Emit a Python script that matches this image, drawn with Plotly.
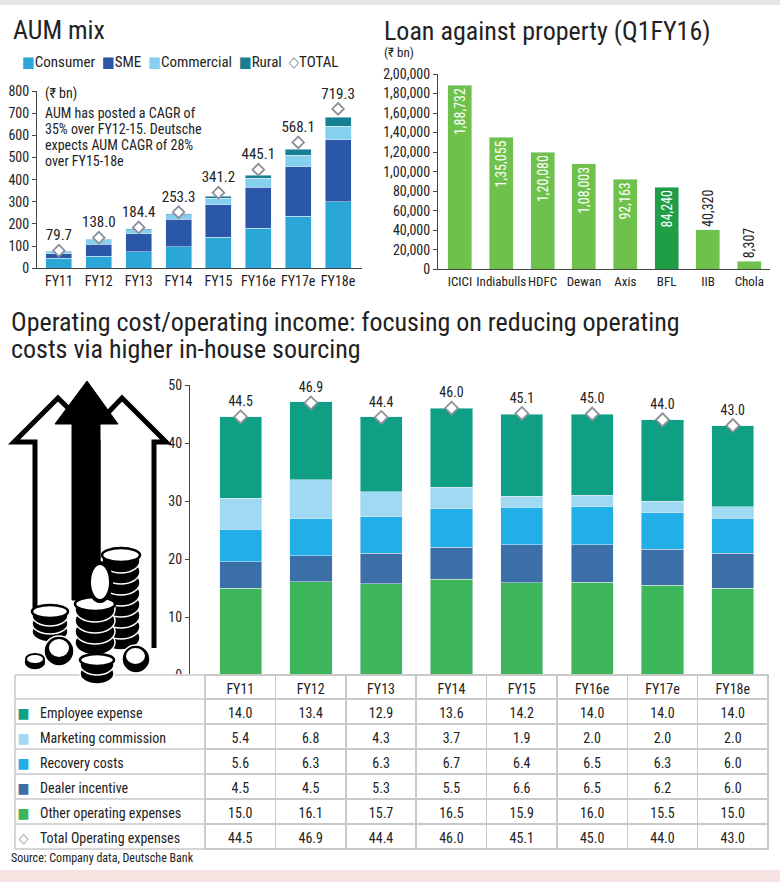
import plotly.graph_objects as go

W, H = 780, 882
FONT = "Liberation Sans Narrow, Roboto Condensed, DejaVu Sans Condensed, sans-serif"
INK = "#222222"
GRID = "#c9c9c9"

# ---- data ----
years = ["FY11", "FY12", "FY13", "FY14", "FY15", "FY16e", "FY17e", "FY18e"]

aum_names = ["Consumer", "SME", "Commercial", "Rural"]
aum_consumer = [45, 55, 75, 97, 140, 180, 236, 300]
aum_sme = [20, 53, 80, 124, 147, 185, 222, 279]
aum_commercial = [10, 20, 19, 20, 29, 42, 53, 63]
aum_rural = [2, 4, 5, 5, 9, 14, 26, 39]
aum_total = [79.7, 138.0, 184.4, 253.3, 341.2, 445.1, 568.1, 719.3]

lap_banks = ["ICICI", "Indiabulls", "HDFC", "Dewan", "Axis", "BFL", "IIB", "Chola"]
lap_values = [188732, 135055, 120080, 108003, 92163, 84240, 40320, 8307]
lap_labels = ["1,88,732", "1,35,055", "1,20,080", "1,08,003", "92,163", "84,240", "40,320", "8,307"]
lap_tickvals = [0, 20000, 40000, 60000, 80000, 100000, 120000, 140000, 160000, 180000, 200000]
lap_ticktext = ["0", "20,000", "40,000", "60,000", "80,000", "1,00,000", "1,20,000",
                "1,40,000", "1,60,000", "1,80,000", "2,00,000"]

opex_names = ["Employee expense", "Marketing commission", "Recovery costs",
              "Dealer incentive", "Other operating expenses"]
opex_total_name = "Total Operating expenses"
opex_employee = [14.0, 13.4, 12.9, 13.6, 14.2, 14.0, 14.0, 14.0]
opex_marketing = [5.4, 6.8, 4.3, 3.7, 1.9, 2.0, 2.0, 2.0]
opex_recovery = [5.6, 6.3, 6.3, 6.7, 6.4, 6.5, 6.3, 6.0]
opex_dealer = [4.5, 4.5, 5.3, 5.5, 6.6, 6.5, 6.2, 6.0]
opex_other = [15.0, 16.1, 15.7, 16.5, 15.9, 16.0, 15.5, 15.0]
opex_total = [44.5, 46.9, 44.4, 46.0, 45.1, 45.0, 44.0, 43.0]

aum_colors = ["#2aa7d6", "#2b57a8", "#86d0ef", "#177f93"]
opex_colors = ["#0f9f84", "#9fd9f2", "#22aee6", "#3c6ea8", "#3db55a"]
diamond_color = "#8a8f99"


def dx(a, b):
    return [a / W, b / W]


def dy(top, bottom):
    return [1 - bottom / H, 1 - top / H]


def P(x, y):
    return f"{x / W:.5f},{1 - y / H:.5f}"


def path(points, close=True):
    s = "M" + " L".join(P(x, y) for x, y in points)
    return s + (" Z" if close else "")


def hline(x0, x1, y, color=GRID, width=1.5):
    return dict(type="line", xref="paper", yref="paper", x0=x0 / W, x1=x1 / W,
                y0=1 - y / H, y1=1 - y / H, line=dict(color=color, width=width))


def vline(x, y0, y1, color=GRID, width=1.5):
    return dict(type="line", xref="paper", yref="paper", x0=x / W, x1=x / W,
                y0=1 - y0 / H, y1=1 - y1 / H, line=dict(color=color, width=width))


def ellipse(x0, y0, x1, y1, fill, line, lw):
    return dict(type="circle", xref="paper", yref="paper",
                x0=x0 / W, x1=x1 / W, y0=1 - y1 / H, y1=1 - y0 / H,
                fillcolor=fill, line=dict(color=line, width=lw))


def coin_stack(cx, w, bottom, n, t, fh):
    out = []
    for k in range(n):
        yb = bottom - k * t
        out.append(ellipse(cx - w / 2, yb - fh - t, cx + w / 2, yb, "black", "white", 1.5))
    top = bottom - (n - 1) * t - fh - t
    out.append(ellipse(cx - w / 2, top, cx + w / 2, top + fh, "white", "black", 2.5))
    return out


fig = go.Figure()

# ---- AUM mix ----
for name, vals, col in zip(aum_names, [aum_consumer, aum_sme, aum_commercial, aum_rural], aum_colors):
    fig.add_trace(go.Bar(x=years, y=vals, name=name, marker_color=col, width=0.65,
                         xaxis="x", yaxis="y", showlegend=False))
fig.add_trace(go.Scatter(x=years, y=aum_total, mode="markers+text", text=[f"{v:.1f}" for v in aum_total],
                         textposition="top center", textfont=dict(size=15, color=INK, family=FONT),
                         marker=dict(symbol="diamond", size=9, color="white",
                                     line=dict(color=diamond_color, width=1.8)),
                         xaxis="x", yaxis="y", showlegend=False, cliponaxis=False))

# ---- Loan against property ----
fig.add_trace(go.Bar(x=lap_banks, y=lap_values, text=lap_labels, width=0.58,
                     marker_color=["#1e9e45" if b == "BFL" else "#6ec24c" for b in lap_banks],
                     textangle=-90, textposition=["inside"] * 6 + ["outside"] * 2,
                     insidetextanchor="end", constraintext="none",
                     insidetextfont=dict(color="white", size=14, family=FONT),
                     outsidetextfont=dict(color=INK, size=14, family=FONT),
                     xaxis="x2", yaxis="y2", showlegend=False, cliponaxis=False))

# ---- Operating cost ----
opex_series = [opex_other, opex_dealer, opex_recovery, opex_marketing, opex_employee]
for name, vals, col in zip(opex_names[::-1], opex_series, opex_colors[::-1]):
    fig.add_trace(go.Bar(x=years, y=vals, name=name, marker_color=col, width=0.6,
                         xaxis="x3", yaxis="y3", showlegend=False))
fig.add_trace(go.Scatter(x=years, y=opex_total, mode="markers+text", text=[f"{v:.1f}" for v in opex_total],
                         textposition="top center", textfont=dict(size=14, color=INK, family=FONT),
                         marker=dict(symbol="diamond", size=10, color="white",
                                     line=dict(color=diamond_color, width=1.8)),
                         xaxis="x3", yaxis="y3", showlegend=False, cliponaxis=False))

# ---- table: key column + label column + one column per year ----
row_names = opex_names + [opex_total_name]
row_keys = ["■"] * len(opex_names) + ["◇"]
key_colors = opex_colors + [diamond_color]
table_rows = [opex_employee, opex_marketing, opex_recovery, opex_dealer, opex_other, opex_total]
columns = [row_keys, row_names] + [[f"{r[i]:.1f}" for r in table_rows] for i in range(len(years))]
font_colors = [key_colors, INK] + [INK] * len(years)
line_colors = ["white", "white"] + [GRID] * len(years)

TABLE_L, LABEL_R, TABLE_R = 15, 205, 768
TABLE_TOP, HEAD_H, ROW_H = 675, 24, 25
TABLE_BOT = TABLE_TOP + HEAD_H + ROW_H * len(row_names)
fig.add_trace(go.Table(
    domain=dict(x=dx(TABLE_L, TABLE_R), y=dy(TABLE_TOP, TABLE_BOT + 2)),
    columnwidth=[17, 173] + [70.3] * len(years),
    header=dict(values=["", ""] + years, height=HEAD_H, align="center",
                fill_color="white", line=dict(color=line_colors, width=1.5),
                font=dict(family=FONT, size=14, color=INK)),
    cells=dict(values=columns, height=ROW_H, align=["center", "left"] + ["center"] * len(years),
               fill_color="white", line=dict(color=line_colors, width=1.5),
               font=dict(family=FONT, size=14, color=font_colors)),
))

axis_common = dict(showgrid=False, zeroline=False, showline=True, linecolor="#444", linewidth=1,
                   tickfont=dict(family=FONT, size=14, color=INK))

shapes = [
    dict(type="rect", xref="paper", yref="paper", x0=0, x1=1, y0=1 - 5 / H, y1=1,
         fillcolor="#e6e6e6", line_width=0, layer="below"),
    dict(type="rect", xref="paper", yref="paper", x0=0, x1=1, y0=0, y1=12 / H,
         fillcolor="#f6e3e1", line_width=0, layer="below"),
]
# grid for the label part of the table
for k in range(len(row_names) + 1):
    shapes.append(hline(TABLE_L, LABEL_R, TABLE_TOP + HEAD_H + ROW_H * k))
shapes.append(hline(TABLE_L, LABEL_R, TABLE_TOP))
shapes.append(vline(TABLE_L, TABLE_TOP, TABLE_BOT))

# icon: arrows and coins
shapes.append(dict(type="path", xref="paper", yref="paper",
                   path=path([(35, 612), (35, 442), (14, 442), (58, 398), (100, 440), (80, 440), (80, 612)], False),
                   fillcolor="white", line=dict(color="black", width=5)))
shapes.append(dict(type="path", xref="paper", yref="paper",
                   path=path([(98, 648), (98, 442), (80, 442), (122, 398), (166, 442), (154, 442), (154, 648)], False),
                   fillcolor="white", line=dict(color="black", width=5)))
shapes.append(dict(type="path", xref="paper", yref="paper",
                   path=path([(72, 600), (72, 424), (55, 424), (87, 381), (118, 424), (100, 424), (100, 600)]),
                   fillcolor="black", line=dict(color="black", width=1)))
shapes += coin_stack(121, 38, 650, 8, 11, 14)
shapes += coin_stack(50, 36, 642, 3, 8, 13)
shapes += coin_stack(95, 40, 655, 4, 11, 14)
shapes.append(ellipse(89, 563, 111, 601, "white", "black", 4))
shapes += coin_stack(97, 34, 684, 2, 9, 12)
shapes.append(ellipse(44, 636, 74, 666, "black", "white", 1.5))
shapes.append(ellipse(48, 638, 70, 658, "white", "black", 2))
shapes.append(ellipse(122, 645, 150, 673, "black", "white", 1.5))
shapes.append(ellipse(125, 647, 146, 665, "white", "black", 2))
shapes.append(ellipse(24, 654, 46, 670, "black", "white", 1.5))
shapes.append(ellipse(26, 654, 44, 664, "white", "black", 2))


def note(x, y, text, size, xanchor="left", color=INK):
    return dict(xref="paper", yref="paper", x=x / W, y=1 - y / H, text=text, showarrow=False,
                xanchor=xanchor, yanchor="middle", align="left",
                font=dict(family=FONT, size=size, color=color))


legend_text = "  ".join(f'<span style="color:{c}">■</span>{n}' for n, c in zip(aum_names, aum_colors))
legend_text += f'  <span style="color:{diamond_color}">◇</span>TOTAL'

annotations = [
    note(11, 30, "AUM mix", 26),
    note(20, 62, legend_text, 15),
    note(43, 93, "(₹ bn)", 14),
    note(43, 113, "AUM has posted a CAGR of", 14),
    note(43, 129, "35% over FY12-15. Deutsche", 14),
    note(43, 145, "expects AUM CAGR of 28%", 14),
    note(43, 161, "over FY15-18e", 14),
    note(382, 31, "Loan against property (Q1FY16)", 26),
    note(382, 52, "(₹ bn)", 13),
    note(9, 322, "Operating cost/operating income: focusing on reducing operating", 26),
    note(9, 349, "costs via higher in-house sourcing", 26),
    note(9, 858, "Source: Company data, Deutsche Bank", 12),
]

fig.update_layout(
    width=W, height=H,
    margin=dict(l=0, r=0, t=0, b=0, autoexpand=False),
    paper_bgcolor="white", plot_bgcolor="white",
    barmode="stack", bargap=0.3,
    font=dict(family=FONT, color=INK),
    xaxis=dict(axis_common, domain=dx(37, 362), range=[-0.55, 7.6], anchor="y", ticks=""),
    yaxis=dict(axis_common, domain=dy(91, 268.3), range=[0, 800], dtick=100, anchor="x",
               ticks="outside", ticklen=4),
    xaxis2=dict(axis_common, domain=dx(438, 770), range=[-0.53, 7.5], anchor="y2", ticks="",
                tickangle=0, tickfont=dict(family=FONT, size=13, color=INK)),
    yaxis2=dict(axis_common, domain=dy(74, 269.3), range=[0, 200000], anchor="x2",
                tickvals=lap_tickvals, ticktext=lap_ticktext, ticks="outside", ticklen=4),
    xaxis3=dict(axis_common, domain=dx(190, 768), range=[-0.72, 7.5], anchor="y3",
                showticklabels=False, ticks=""),
    yaxis3=dict(axis_common, domain=dy(385, 675), range=[0, 50], dtick=10, anchor="x3",
                ticks="outside", ticklen=4),
    shapes=shapes,
    annotations=annotations,
)

fig.write_html("out.html", config={"displayModeBar": False},
               post_script="document.body.style.margin='0px';")
